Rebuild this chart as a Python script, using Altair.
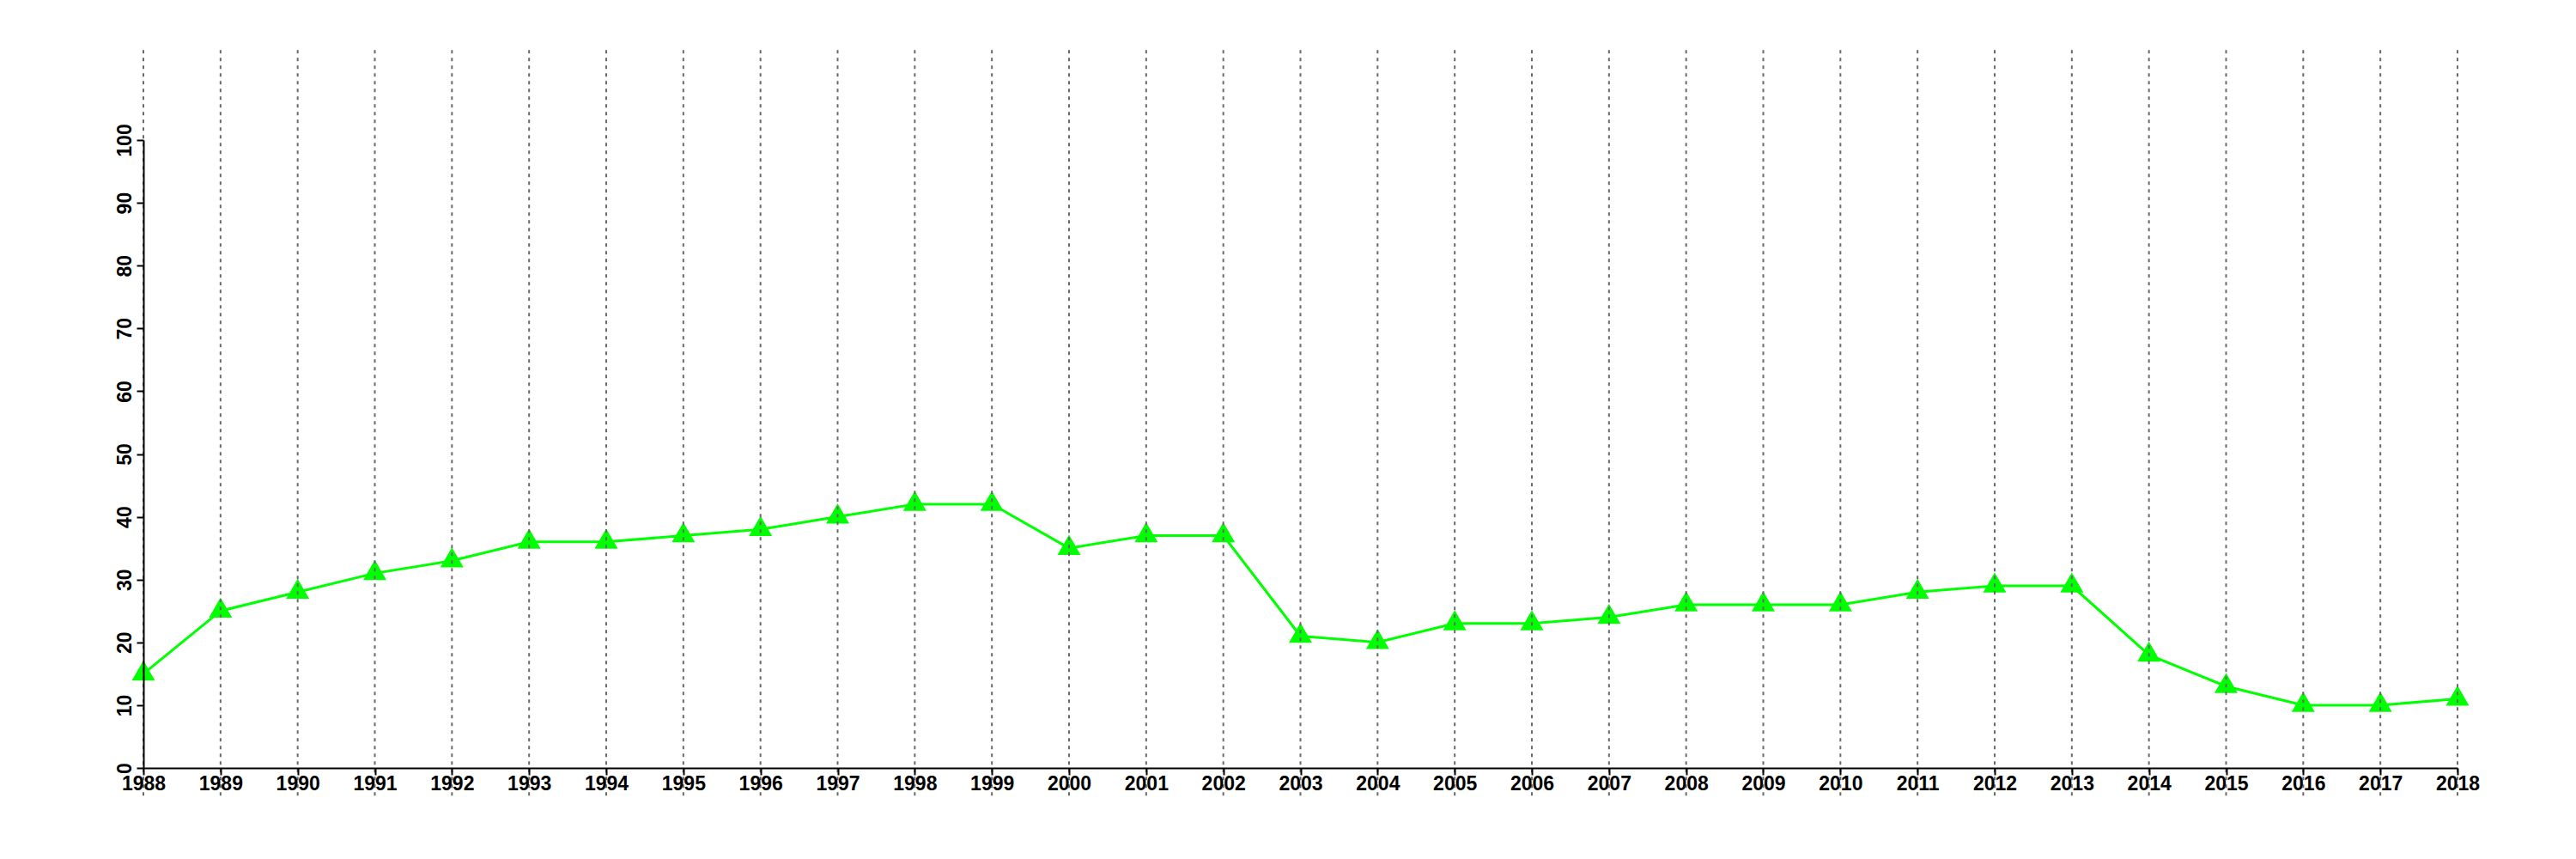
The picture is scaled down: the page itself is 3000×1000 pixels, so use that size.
import altair as alt
import pandas as pd

years = list(range(1988, 2019))
values = [15, 25, 28, 31, 33, 36, 36, 37, 38, 40, 42, 42, 35, 37, 37,
          21, 20, 23, 23, 24, 26, 26, 26, 28, 29, 29, 18, 13, 10, 10, 11]
y_ticks = list(range(0, 101, 10))
# R-style plot region: ylim 0..110 padded by 4%
rule_low, rule_high = -4.4, 114.4

df = pd.DataFrame({"year": years, "value": values})

x_scale = alt.Scale(domain=[1988, 2018], nice=False, zero=False)
y_scale = alt.Scale(domain=[0, 100], nice=False, zero=False)

FONT = "Liberation Sans"

x_axis = alt.Axis(values=years, format="d", title=None, grid=False,
                  domainColor="black", domainWidth=2, tickColor="black",
                  tickWidth=2, tickSize=8, labelFont=FONT,
                  labelFontWeight="bold", labelFontSize=23, labelColor="black",
                  labelBaseline="alphabetic", labelPadding=17,
                  labelFlush=False, labelOverlap=False, zindex=1)
y_axis = alt.Axis(values=y_ticks, format="d", title=None, grid=False,
                  domainColor="black", domainWidth=2, tickColor="black",
                  tickWidth=2, tickSize=8, labelFont=FONT,
                  labelFontWeight="bold", labelFontSize=23, labelColor="black",
                  labelAngle=270, labelAlign="center",
                  labelBaseline="alphabetic", labelPadding=7,
                  labelFlush=False, labelOverlap=False, zindex=1)

base = alt.Chart(df)

line = base.mark_line(color="#00ff00", strokeWidth=3).encode(
    x=alt.X("year:Q", scale=x_scale, axis=x_axis),
    y=alt.Y("value:Q", scale=y_scale, axis=y_axis),
)

tri = "M0,-1.1547L1,0.5774L-1,0.5774Z"
points = base.mark_point(shape=tri, filled=True, color="#00ff00",
                         opacity=1, size=729).encode(
    x=alt.X("year:Q"),
    y=alt.Y("value:Q"),
)

rules = base.mark_rule(color="#6a6a6a", strokeDash=[4, 5], strokeWidth=2).encode(
    x=alt.X("year:Q"),
    y=alt.datum(rule_low),
    y2=alt.datum(rule_high),
)

chart = alt.layer(line, points, rules).properties(
    width=2695, height=731,
    autosize=alt.AutoSizeParams(type="none"),
    padding={"left": 159, "top": 155, "right": 130, "bottom": 100},
    background="white",
).configure_view(stroke=None)

chart.save("out.html", embed_options={"renderer": "svg", "actions": False})
